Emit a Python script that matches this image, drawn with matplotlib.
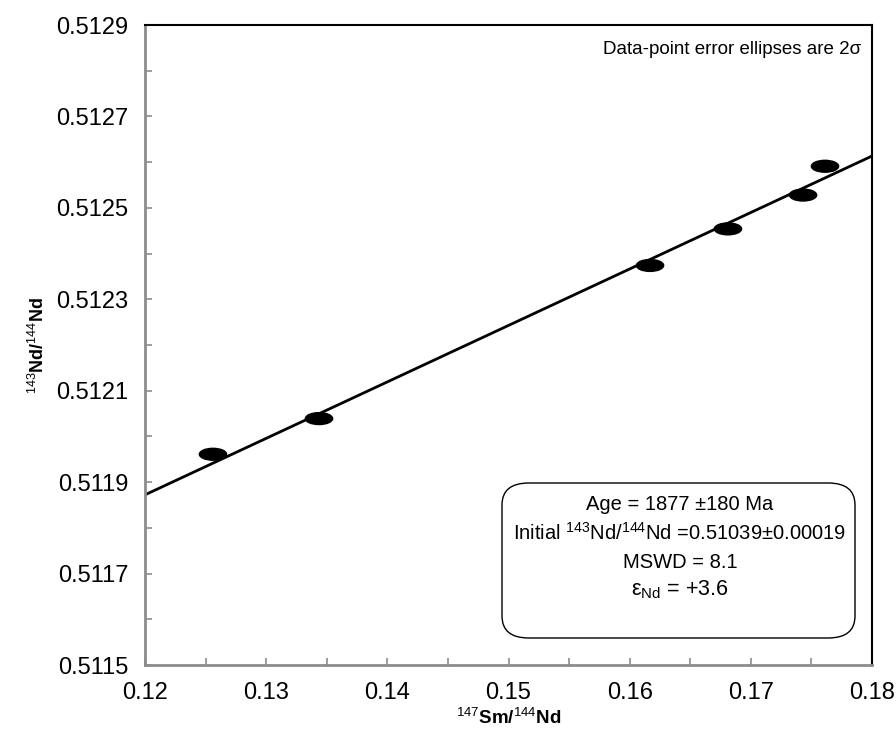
import matplotlib
matplotlib.use("Agg")
import matplotlib.pyplot as plt
from matplotlib.patches import Ellipse, FancyBboxPatch
from matplotlib.ticker import MultipleLocator, FixedLocator
import numpy as np

plt.rcParams['font.family'] = ['Liberation Sans', 'DejaVu Sans']
plt.rcParams['mathtext.fontset'] = 'custom'
plt.rcParams['mathtext.rm'] = 'Liberation Sans'
plt.rcParams['mathtext.it'] = 'Liberation Sans:italic'
plt.rcParams['mathtext.bf'] = 'Liberation Sans:bold'

# Data
sm_nd = [0.12561, 0.13436, 0.16168, 0.16811, 0.17431, 0.17612]
nd_nd = [0.511961, 0.512039, 0.512374, 0.512454, 0.512528, 0.512591]
ell_w = [0.00225, 0.00225, 0.00225, 0.00225, 0.00225, 0.00225]
ell_h = [0.000026, 0.000026, 0.000026, 0.000026, 0.000026, 0.000026]

intercept = 0.51039
slope = 0.012352

x_ticks = [0.12, 0.13, 0.14, 0.15, 0.16, 0.17, 0.18]
x_ticklabels = ['0.12', '0.13', '0.14', '0.15', '0.16', '0.17', '0.18']
y_ticks = [0.5115, 0.5117, 0.5119, 0.5121, 0.5123, 0.5125, 0.5127, 0.5129]
y_ticklabels = ['0.5115', '0.5117', '0.5119', '0.5121', '0.5123', '0.5125', '0.5127', '0.5129']

info_lines = ['Age = 1877 \u00b1180 Ma',
              'Initial $^{143}$Nd/$^{144}$Nd =0.51039\u00b10.00019',
              'MSWD = 8.1',
              '$\\mathrm{\u03b5}_{\\mathrm{Nd}}$ = +3.6']

fig = plt.figure(figsize=(8.96, 7.30), dpi=100)
ax = fig.add_axes([145/896, 1-665/730, (872-145)/896, (665-25)/730])

ax.set_xlim(x_ticks[0], x_ticks[-1])
ax.set_ylim(y_ticks[0], y_ticks[-1])

# regression line
xl = np.array([x_ticks[0], x_ticks[-1]])
ax.plot(xl, intercept + slope * xl, color='black', lw=2, zorder=2)

for x, y, w, h in zip(sm_nd, nd_nd, ell_w, ell_h):
    ax.add_patch(Ellipse((x, y), w, h, facecolor='black', edgecolor='black', zorder=3))

ax.xaxis.set_major_locator(FixedLocator(x_ticks))
ax.set_xticklabels(x_ticklabels)
ax.xaxis.set_minor_locator(MultipleLocator(0.005))
ax.yaxis.set_major_locator(FixedLocator(y_ticks))
ax.set_yticklabels(y_ticklabels)
ax.yaxis.set_minor_locator(MultipleLocator(0.0001))

gray = '#8c8c8c'
ax.tick_params(which='both', direction='in', length=5, width=1.2, color=gray,
               top=False, right=False, labelsize=17, pad=12)
for s in ['left', 'bottom']:
    ax.spines[s].set_color(gray)
    ax.spines[s].set_linewidth(2)
for s in ['top', 'right']:
    ax.spines[s].set_color('black')
    ax.spines[s].set_linewidth(1.5)

ax.set_xlabel(r'$^{147}$Sm/$^{144}$Nd', fontsize=13.5, fontweight='bold', labelpad=3)
ax.set_ylabel(r'$^{143}$Nd/$^{144}$Nd', fontsize=13, fontweight='bold', labelpad=6)

ax.text(0.985, 0.975, 'Data-point error ellipses are 2\u03c3', transform=ax.transAxes,
        ha='right', va='top', fontsize=13.5)

# info box
box = FancyBboxPatch((502/896, 1-638/730), (855-502)/896, (638-483)/730,
                     boxstyle='round,pad=0,rounding_size=0.03', transform=fig.transFigure,
                     facecolor='white', edgecolor='black', lw=1.0, zorder=4)
fig.patches.append(box)
ys = [505, 533, 562, 590]
sizes = [14.5, 14.5, 14.5, 15.5]
for t, yy, fs in zip(info_lines, ys, sizes):
    fig.text(680/896, 1-yy/730, t, ha='center', va='center', fontsize=fs, zorder=5)

fig.savefig('out.png', dpi=100)
